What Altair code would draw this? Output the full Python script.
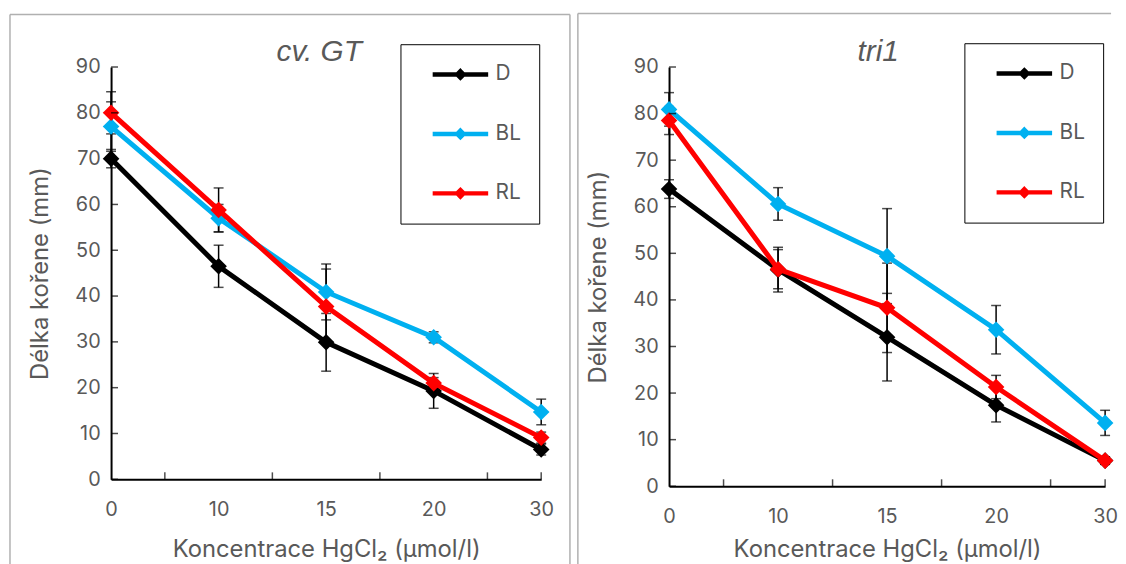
import json
import altair as alt
import pandas as pd

# ---------------- data ----------------
conc_labels = ["0", "10", "15", "20", "30"]
series_names = ["D", "BL", "RL"]
series_colors = ["#000000", "#00B0F0", "#FF0000"]
y_tick_values = [0, 10, 20, 30, 40, 50, 60, 70, 80, 90]
x_tick_positions = [0.5, 1.5, 2.5, 3.5, 4.0]

# cv. GT
gt_D = [70.0, 46.5, 29.9, 19.3, 6.5]
gt_BL = [77.0, 57.0, 40.9, 31.0, 14.7]
gt_RL = [80.0, 58.8, 37.7, 21.0, 9.1]
gt_D_err = [2.0, 4.6, 6.3, 3.8, 1.2]
gt_BL_err = [5.4, 3.0, 6.1, 1.2, 2.8]
gt_RL_err = [4.6, 4.8, 8.2, 1.2, 1.2]

# tri1
tri_D = [63.8, 46.5, 32.0, 17.4, 5.5]
tri_BL = [80.9, 60.6, 49.4, 33.6, 13.6]
tri_RL = [78.5, 46.6, 38.3, 21.3, 5.5]
tri_D_err = [2.0, 4.8, 9.4, 3.6, 0.8]
tri_BL_err = [3.6, 3.5, 10.2, 5.2, 2.7]
tri_RL_err = [3.0, 4.2, 9.6, 2.5, 0.8]

FONT = "Inter"
GRAY = "#595959"
FRAME = "#B0B0B0"

# legend symbol: line + diamond, in units of half the symbol size (10 px)
LEGEND_PATH = "M0.2,0L5.8,0M3.0,-0.32L3.32,0L3.0,0.32L2.68,0Z"


def long_table(vals, errs):
    rows = []
    for s in series_names:
        for i, c in enumerate(conc_labels):
            rows.append({"idx": i, "conc": c, "series": s,
                         "value": vals[s][i], "err": errs[s][i]})
    return pd.DataFrame(rows)


def seg(x1, x2, y1, y2):
    return alt.Chart(alt.Data(values=[{}])).mark_rule(
        color=FRAME, strokeWidth=1.5
    ).encode(x=alt.value(x1), x2=alt.value(x2), y=alt.value(y1), y2=alt.value(y2))


def panel(title, title_x, df, w, h, frame_segs, legend_xy, x_title_pad):
    label_expr = json.dumps(conc_labels) + "[datum.value]"
    xaxis = alt.Axis(values=list(range(len(conc_labels))), labelExpr=label_expr,
                     title="Koncentrace HgCl₂ (µmol/l)", ticks=False, tickSize=0,
                     grid=False, domainColor="black", domainWidth=2,
                     labelFont=FONT, labelFontSize=20, labelColor=GRAY,
                     labelPadding=21, labelFlush=False, labelOverlap=False,
                     titleFont=FONT, titleFontSize=24, titleColor=GRAY,
                     titleFontWeight="normal", titlePadding=x_title_pad)
    yaxis = alt.Axis(values=y_tick_values, title="Délka kořene (mm)", ticks=False,
                     tickSize=0, grid=False, domainColor="black", domainWidth=2,
                     labelFont=FONT, labelFontSize=20, labelColor=GRAY,
                     labelPadding=11, labelFlush=False, labelOverlap=False,
                     titleFont=FONT, titleFontSize=24, titleColor=GRAY,
                     titleFontWeight="normal", titlePadding=23)
    xscale = alt.Scale(domain=[0, len(conc_labels) - 1], nice=False, zero=False)
    yscale = alt.Scale(domain=[0, 90], nice=False)

    def X(f):
        return alt.X(f"{f}:Q", scale=xscale, axis=xaxis)

    def Y(f):
        return alt.Y(f"{f}:Q", scale=yscale, axis=yaxis)

    legend = alt.Legend(title=None, orient="none", legendX=legend_xy[0],
                        legendY=legend_xy[1], direction="vertical",
                        symbolType=LEGEND_PATH, symbolSize=400,
                        symbolStrokeWidth=4.5, symbolOpacity=1,
                        labelFont=FONT, labelFontSize=21, labelColor=GRAY,
                        labelOffset=53, padding=18, rowPadding=35,
                        strokeColor="black")
    color = alt.Color("series:N",
                      scale=alt.Scale(domain=series_names, range=series_colors),
                      legend=legend)

    frame_layers = [seg(*s) for s in frame_segs]

    title_mark = alt.Chart(alt.Data(values=[{"t": title}])).mark_text(
        font="Liberation Sans", fontSize=30, fontStyle="italic", color=GRAY,
        align="center", baseline="alphabetic"
    ).encode(text="t:N", x=alt.value(title_x), y=alt.value(-6))

    base = alt.Chart(df)
    eb = base.transform_calculate(lo="datum.value - datum.err",
                                  hi="datum.value + datum.err")
    err_rule = eb.mark_rule(color="black", strokeWidth=1.5).encode(
        x=X("idx"), y=Y("lo"), y2="hi:Q")
    cap_lo = eb.mark_tick(orient="horizontal", size=10, thickness=1.5,
                          color="black").encode(x=X("idx"), y=Y("lo"))
    cap_hi = eb.mark_tick(orient="horizontal", size=10, thickness=1.5,
                          color="black").encode(x=X("idx"), y=Y("hi"))

    series_layers = []
    for s in series_names:
        sub = base.transform_filter(alt.datum.series == s)
        series_layers.append(sub.mark_line(strokeWidth=5).encode(
            x=X("idx"), y=Y("value"), color=color))
        series_layers.append(sub.mark_point(shape="diamond", filled=True, size=280,
                                            opacity=1).encode(
            x=X("idx"), y=Y("value"), color=color))

    yt = alt.Chart(pd.DataFrame({"value": y_tick_values})).mark_tick(
        orient="horizontal", size=7, thickness=1.5, color="black"
    ).encode(y=Y("value"), x=alt.value(3.5))
    xt = alt.Chart(pd.DataFrame({"idx": x_tick_positions})).mark_tick(
        orient="vertical", size=7, thickness=1.5, color="black"
    ).encode(x=X("idx"), y=alt.value(h - 3.5))

    return alt.layer(*frame_layers, title_mark, err_rule, cap_lo, cap_hi,
                     *series_layers, yt, xt).properties(width=w, height=h)


gt_df = long_table({"D": gt_D, "BL": gt_BL, "RL": gt_RL},
                   {"D": gt_D_err, "BL": gt_BL_err, "RL": gt_RL_err})
tri_df = long_table({"D": tri_D, "BL": tri_BL, "RL": tri_RL},
                    {"D": tri_D_err, "BL": tri_BL_err, "RL": tri_RL_err})

left_frame = [(-102, 463, -53, -53), (-102, -102, -53, 505), (463, 463, -53, 505)]
right_frame = [(-92, 446, -54, -54), (-92, -92, -54, 504)]

left = panel("cv. GT", 210, gt_df, 434, 416, left_frame, (292, -23), 18)
right = panel("tri1", 211, tri_df, 440, 423, right_frame, (298, -24), 11)

chart = alt.hconcat(left, right, spacing=4).resolve_scale(
    color="independent"
).properties(
    padding={"left": 0, "top": 1, "right": 0, "bottom": 0},
    background="white"
).configure_view(stroke="transparent")

chart.save("out.html", embed_options={"renderer": "svg", "actions": False})
